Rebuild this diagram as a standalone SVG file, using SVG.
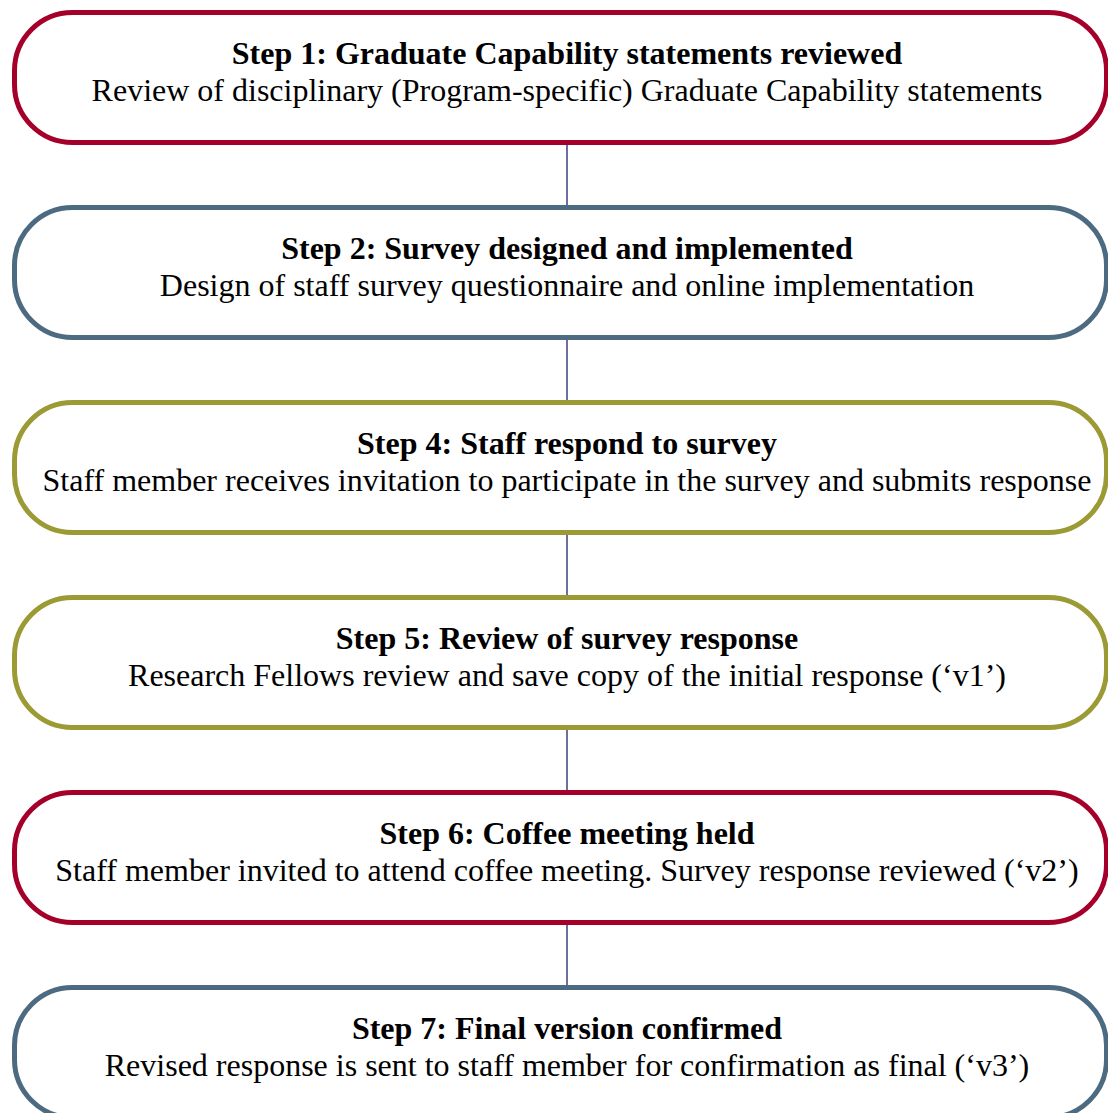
<svg xmlns="http://www.w3.org/2000/svg" width="1108" height="1113" viewBox="0 0 1108 1113">
<style>
.box{fill:#fff;stroke-width:5}
.red{stroke:#A5002A}
.blue{stroke:#4D6B80}
.olive{stroke:#9C9A35}
.t{font-family:"Liberation Serif","Times New Roman",serif;font-size:32px;fill:#000;text-anchor:middle}
.b{font-weight:bold}
.c{stroke:#6E6EA0;stroke-width:2}
</style>
<rect width="1108" height="1113" fill="#fff"/>
<g id="connectors">
<line class="c" x1="567" y1="145" x2="567" y2="205"/>
<line class="c" x1="567" y1="340" x2="567" y2="400"/>
<line class="c" x1="567" y1="535" x2="567" y2="595"/>
<line class="c" x1="567" y1="730" x2="567" y2="790"/>
<line class="c" x1="567" y1="925" x2="567" y2="985"/>
</g>
<g id="step1">
<rect class="box red" x="14.5" y="12.5" width="1092" height="130" rx="58" ry="58"/>
<text class="t b" x="567" y="64">Step 1: Graduate Capability statements reviewed</text>
<text class="t" x="567" y="101">Review of disciplinary (Program-specific) Graduate Capability statements</text>
</g>
<g id="step2">
<rect class="box blue" x="14.5" y="207.5" width="1092" height="130" rx="58" ry="58"/>
<text class="t b" x="567" y="259">Step 2: Survey designed and implemented</text>
<text class="t" x="567" y="296">Design of staff survey questionnaire and online implementation</text>
</g>
<g id="step4">
<rect class="box olive" x="14.5" y="402.5" width="1092" height="130" rx="58" ry="58"/>
<text class="t b" x="567" y="454">Step 4: Staff respond to survey</text>
<text class="t" x="567" y="491">Staff member receives invitation to participate in the survey and submits response</text>
</g>
<g id="step5">
<rect class="box olive" x="14.5" y="597.5" width="1092" height="130" rx="58" ry="58"/>
<text class="t b" x="567" y="649">Step 5: Review of survey response</text>
<text class="t" x="567" y="686">Research Fellows review and save copy of the initial response (‘v1’)</text>
</g>
<g id="step6">
<rect class="box red" x="14.5" y="792.5" width="1092" height="130" rx="58" ry="58"/>
<text class="t b" x="567" y="844">Step 6: Coffee meeting held</text>
<text class="t" x="567" y="881">Staff member invited to attend coffee meeting. Survey response reviewed (‘v2’)</text>
</g>
<g id="step7">
<rect class="box blue" x="14.5" y="987.5" width="1092" height="130" rx="58" ry="58"/>
<text class="t b" x="567" y="1039">Step 7: Final version confirmed</text>
<text class="t" x="567" y="1076">Revised response is sent to staff member for confirmation as final (‘v3’)</text>
</g>
</svg>
